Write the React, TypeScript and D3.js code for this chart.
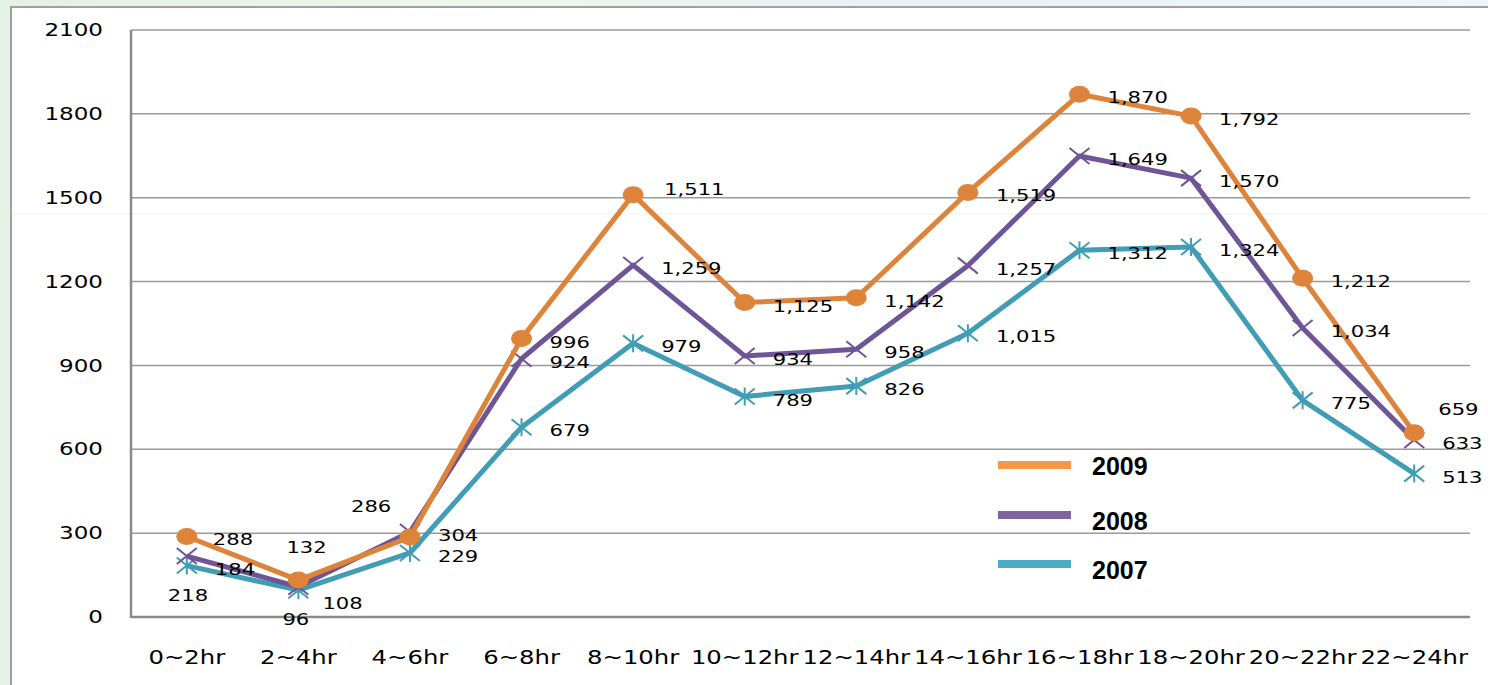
import React from "react";
import * as d3 from "d3";

const categories = ["0~2hr", "2~4hr", "4~6hr", "6~8hr", "8~10hr", "10~12hr", "12~14hr", "14~16hr", "16~18hr", "18~20hr", "20~22hr", "22~24hr"];
const values2009 = [288, 132, 286, 996, 1511, 1125, 1142, 1519, 1870, 1792, 1212, 659];
const values2008 = [218, 108, 304, 924, 1259, 934, 958, 1257, 1649, 1570, 1034, 633];
const values2007 = [184, 96, 229, 679, 979, 789, 826, 1015, 1312, 1324, 775, 513];
const yTicks = [0, 300, 600, 900, 1200, 1500, 1800, 2100];
const seriesNames = ["2009", "2008", "2007"];

// label placement overrides (index -> [dx, dy])
const labelOverrides: Record<string, Record<number, [number, number]>> = {
  "2009": { 0: [26, 2], 1: [-12, -33], 2: [-59, -31], 4: [31, -6], 11: [24, -24] },
  "2008": { 0: [-19, 39], 1: [24, 16] },
  "2007": { 1: [-16, 29] },
};

const W = 1488, H = 685;
const left = 131, right = 1470, top = 30, bottom = 617;
const SX = 1.28;

export default function App() {
  const x = d3.scaleBand<string>().domain(categories).range([left, right]);
  const y = d3.scaleLinear().domain([0, 2100]).range([bottom, top]);
  const cx = (c: string) => (x(c) as number) + x.bandwidth() / 2;
  const series = [
    { name: "2009", values: values2009, line: "#DE833A", legend: "#F79646", marker: "circle" },
    { name: "2008", values: values2008, line: "#6F5596", legend: "#8064A2", marker: "x" },
    { name: "2007", values: values2007, line: "#409DB5", legend: "#4BACC6", marker: "star" },
  ];
  const lineGen = d3.line<number>().x((_, i) => cx(categories[i])).y((v) => y(v));
  const fmt = d3.format(",");
  const drawOrder = [series[2], series[1], series[0]];

  const marker = (kind: string, px: number, py: number, color: string, key: string) => {
    if (kind === "circle") return <ellipse key={key} cx={px} cy={py} rx={10.5} ry={8.5} fill={color} />;
    const hw = 10, hh = 8;
    if (kind === "x")
      return (
        <path key={key} d={`M${px - hw},${py - hh}L${px + hw},${py + hh}M${px - hw},${py + hh}L${px + hw},${py - hh}`} stroke={color} strokeWidth={2} fill="none" />
      );
    return (
      <path key={key} d={`M${px - hw},${py - hh}L${px + hw},${py + hh}M${px - hw},${py + hh}L${px + hw},${py - hh}M${px},${py - hh - 1}L${px},${py + hh + 1}`} stroke={color} strokeWidth={2} fill="none" />
    );
  };

  return (
    <svg width={W} height={H} style={{ position: "absolute", left: 0, top: 0, display: "block" }}>
      <defs>
        <linearGradient id="bg" x1="0" y1="0" x2="1" y2="0">
          <stop offset="0" stopColor="#e2f2e4" />
          <stop offset="0.3" stopColor="#eef7e8" />
          <stop offset="0.6" stopColor="#e6f3f8" />
          <stop offset="1" stopColor="#eef6fb" />
        </linearGradient>
      </defs>
      <rect x={0} y={0} width={W} height={H} fill="url(#bg)" />
      <rect x={11} y={7} width={W + 20} height={H} fill="#ffffff" stroke="#a0a0a0" strokeWidth={2} />
      <line x1={12} x2={W} y1={214} y2={214} stroke="#eef6e6" strokeWidth={1} />
      {yTicks.filter((t) => t > 0).map((t) => (
        <line key={"g" + t} x1={left} x2={right} y1={y(t)} y2={y(t)} stroke="#9a9a9a" strokeWidth={1.5} />
      ))}
      <line x1={left} x2={right} y1={bottom} y2={bottom} stroke="#8a8a8a" strokeWidth={2.5} />
      <line x1={left} x2={left} y1={top} y2={bottom + 1} stroke="#8a8a8a" strokeWidth={2.5} />
      {yTicks.map((t) => (
        <text key={"yt" + t} transform={`translate(103,${y(t)}) scale(${SX},1)`} textAnchor="end" dominantBaseline="central" fontFamily="DejaVu Sans" fontSize={18} fill="#000">
          {t}
        </text>
      ))}
      {categories.map((c) => (
        <text key={"xc" + c} transform={`translate(${cx(c)},657) scale(${SX},1)`} textAnchor="middle" dominantBaseline="central" fontFamily="DejaVu Sans" fontSize={19} fill="#000">
          {c}
        </text>
      ))}
      {drawOrder.map((s) => (
        <g key={"s" + s.name}>
          <path d={lineGen(s.values) || ""} fill="none" stroke={s.line} strokeWidth={5} strokeLinejoin="round" />
          {s.values.map((v, i) => marker(s.marker, cx(categories[i]), y(v), s.line, s.name + i))}
        </g>
      ))}
      {series.map((s) =>
        s.values.map((v, i) => {
          const ov = labelOverrides[s.name][i];
          const dx = ov ? ov[0] : 28;
          const dy = ov ? ov[1] : 3;
          return (
            <text key={"l" + s.name + i} transform={`translate(${cx(categories[i]) + dx},${y(v) + dy}) scale(${SX},1)`} dominantBaseline="central" fontFamily="DejaVu Sans" fontSize={16.5} fill="#000">
              {fmt(v)}
            </text>
          );
        })
      )}
      {series.map((s, i) => (
        <g key={"lg" + s.name}>
          <rect x={998} y={[461, 511, 560][i]} width={73} height={8} fill={s.legend} />
          <text x={1092} y={[475, 530, 579][i]} fontFamily="Liberation Sans" fontWeight="bold" fontSize={25} fill="#000">
            {seriesNames[i]}
          </text>
        </g>
      ))}
    </svg>
  );
}
